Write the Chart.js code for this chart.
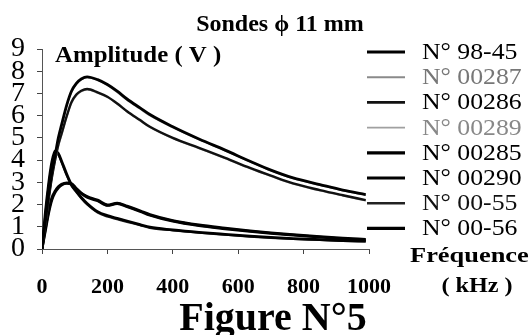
<!DOCTYPE html>
<html>
<head>
<meta charset="utf-8">
<script src="https://cdn.jsdelivr.net/npm/chart.js@4"></script>
<style>
  html, body { margin: 0; padding: 0; background: #fff; }
  #wrap { position: relative; width: 530px; height: 335px; }
</style>
</head>
<body>
<div id="wrap"><canvas id="chart" width="530" height="335"></canvas></div>
<script>
// frequences (kHz)
const freq = [0, 10, 20, 30, 40, 50, 60, 76, 90, 105, 120, 138, 170, 200, 230, 260, 300, 330, 400, 480, 560, 636, 700, 768, 850, 920, 990];

// amplitudes (V)
const s9845 = [0, 1.2, 2.4, 3.4, 4.2, 5.0, 5.6, 6.5, 7.1, 7.45, 7.65, 7.75, 7.62, 7.4, 7.1, 6.75, 6.35, 6.05, 5.5, 4.95, 4.45, 3.95, 3.55, 3.2, 2.9, 2.65, 2.45];
const s00287 = [0, 1.1, 2.3, 3.3, 4.1, 4.9, 5.5, 6.45, 7.05, 7.4, 7.62, 7.72, 7.6, 7.36, 7.05, 6.7, 6.3, 6.0, 5.46, 4.92, 4.42, 3.92, 3.52, 3.17, 2.87, 2.62, 2.42];
const s00286 = [0, 1.1, 2.2, 3.2, 4.0, 4.7, 5.2, 6.0, 6.6, 6.95, 7.12, 7.2, 7.05, 6.85, 6.55, 6.2, 5.8, 5.5, 5.0, 4.55, 4.1, 3.65, 3.3, 2.95, 2.65, 2.42, 2.2];
const s00289 = [0, 1.0, 2.1, 3.1, 3.9, 4.6, 5.1, 5.95, 6.55, 6.9, 7.08, 7.17, 7.02, 6.82, 6.52, 6.17, 5.77, 5.47, 4.97, 4.52, 4.07, 3.62, 3.27, 2.92, 2.62, 2.39, 2.17];
const s00285 = [0, 1.6, 2.9, 3.9, 4.42, 4.3, 3.95, 3.35, 2.9, 2.6, 2.32, 2.05, 1.68, 1.5, 1.38, 1.26, 1.1, 0.98, 0.86, 0.75, 0.66, 0.58, 0.52, 0.47, 0.42, 0.38, 0.35];
const s00290 = [0, 0.9, 1.7, 2.3, 2.6, 2.8, 2.92, 2.98, 2.95, 2.72, 2.52, 2.36, 2.2, 1.98, 2.06, 1.93, 1.72, 1.55, 1.28, 1.08, 0.94, 0.82, 0.73, 0.65, 0.56, 0.49, 0.43];
const s0055 = [0, 1.5, 2.8, 3.8, 4.35, 4.25, 3.9, 3.3, 2.85, 2.56, 2.28, 2.0, 1.64, 1.46, 1.34, 1.22, 1.07, 0.95, 0.84, 0.73, 0.64, 0.56, 0.5, 0.45, 0.41, 0.37, 0.34];
const s0056 = [0, 0.8, 1.6, 2.2, 2.55, 2.75, 2.88, 2.95, 2.92, 2.7, 2.5, 2.33, 2.17, 1.96, 2.04, 1.9, 1.69, 1.52, 1.25, 1.05, 0.91, 0.79, 0.7, 0.62, 0.53, 0.46, 0.4];

const seriesNames = ["N° 98-45", "N° 00287", "N° 00286", "N° 00289", "N° 00285", "N° 00290", "N° 00-55", "N° 00-56"];
const seriesValues = [s9845, s00287, s00286, s00289, s00285, s00290, s0055, s0056];

const xTicks = [0, 200, 400, 600, 800, 1000];
const yTicks = [0, 1, 2, 3, 4, 5, 6, 7, 8, 9];

// line look for each series (same order)
const lineColors = ["#000", "#8a8a8a", "#111", "#a0a0a0", "#000", "#000", "#222", "#000"];
const lineWidths = [2.8, 1.5, 2.4, 1.5, 2.8, 2.8, 2.2, 2.8];
const textColors = ["#000", "#777", "#000", "#888", "#000", "#000", "#111", "#000"];

Chart.defaults.font.family = "'Liberation Serif', 'Times New Roman', serif";
Chart.defaults.color = "#000";

const datasets = seriesNames.map((name, i) => ({
  label: name,
  data: freq.map((f, k) => ({ x: f, y: seriesValues[i][k] })),
  borderColor: lineColors[i],
  backgroundColor: lineColors[i],
  borderWidth: lineWidths[i],
  pointRadius: 0,
  cubicInterpolationMode: "monotone",
  fill: false
}));

function drawText(ctx, text, x, y, font, align, scaleX, color) {
  ctx.save();
  ctx.font = font;
  ctx.fillStyle = color || "#000";
  ctx.textBaseline = "middle";
  ctx.textAlign = align;
  ctx.translate(x, y);
  ctx.scale(scaleX, 1);
  ctx.fillText(text, 0, 0);
  ctx.restore();
}

const overlay = {
  id: "overlay",
  afterDraw(chart) {
    const ctx = chart.ctx;
    const serif = "'Liberation Serif', 'Times New Roman', serif";

    drawText(ctx, "Sondes \u03D5 11 mm", 280, 25, "bold 24px " + serif, "center", 1, "#000");
    drawText(ctx, "Amplitude ( V )", 55, 56, "bold 23px " + serif, "left", 1.08, "#000");

    // legend
    chart.data.datasets.forEach((ds, i) => {
      const y = 52 + i * 25.2;
      ctx.save();
      ctx.strokeStyle = ds.borderColor;
      ctx.lineWidth = ds.borderWidth + 0.4;
      ctx.beginPath();
      ctx.moveTo(367, y);
      ctx.lineTo(405, y);
      ctx.stroke();
      ctx.restore();
      drawText(ctx, ds.label, 422, y + 1, "23px " + serif, "left", 1.12, textColors[i]);
    });

    drawText(ctx, "Fréquence", 410, 256, "bold 22px " + serif, "left", 1.2, "#000");
    drawText(ctx, "( kHz )", 477, 286, "bold 22px " + serif, "center", 1.1, "#000");
    drawText(ctx, "Figure N°5", 273, 320, "bold 40px " + serif, "center", 1, "#000");
  }
};

new Chart(document.getElementById("chart").getContext("2d"), {
  type: "line",
  data: { datasets },
  options: {
    responsive: false,
    animation: false,
    layout: { padding: { top: 49, left: 0, right: 161, bottom: 36 } },
    scales: {
      x: {
        type: "linear",
        min: 0,
        max: 1000,
        afterFit: scale => { scale.height = 50; },
        afterBuildTicks: scale => { scale.ticks = xTicks.map(v => ({ value: v })); },
        border: { display: true, color: "#555", width: 1 },
        grid: { drawOnChartArea: false, drawTicks: true, tickLength: 5, color: "#444" },
        ticks: {
          padding: 20,
          maxRotation: 0,
          autoSkip: false,
          font: { size: 22, weight: "bold" },
          color: "#000",
          callback: v => String(v)
        }
      },
      y: {
        min: 0,
        max: 9,
        afterFit: scale => { scale.width = 42; },
        afterBuildTicks: scale => { scale.ticks = yTicks.map(v => ({ value: v })); },
        border: { display: true, color: "#555", width: 1 },
        grid: { drawOnChartArea: false, drawTicks: true, tickLength: 5, color: "#444" },
        ticks: {
          padding: 12,
          autoSkip: false,
          font: { size: 28 },
          color: "#000",
          callback: v => String(v)
        }
      }
    },
    plugins: {
      legend: { display: false },
      tooltip: { enabled: false }
    }
  },
  plugins: [overlay]
});
</script>
</body>
</html>
